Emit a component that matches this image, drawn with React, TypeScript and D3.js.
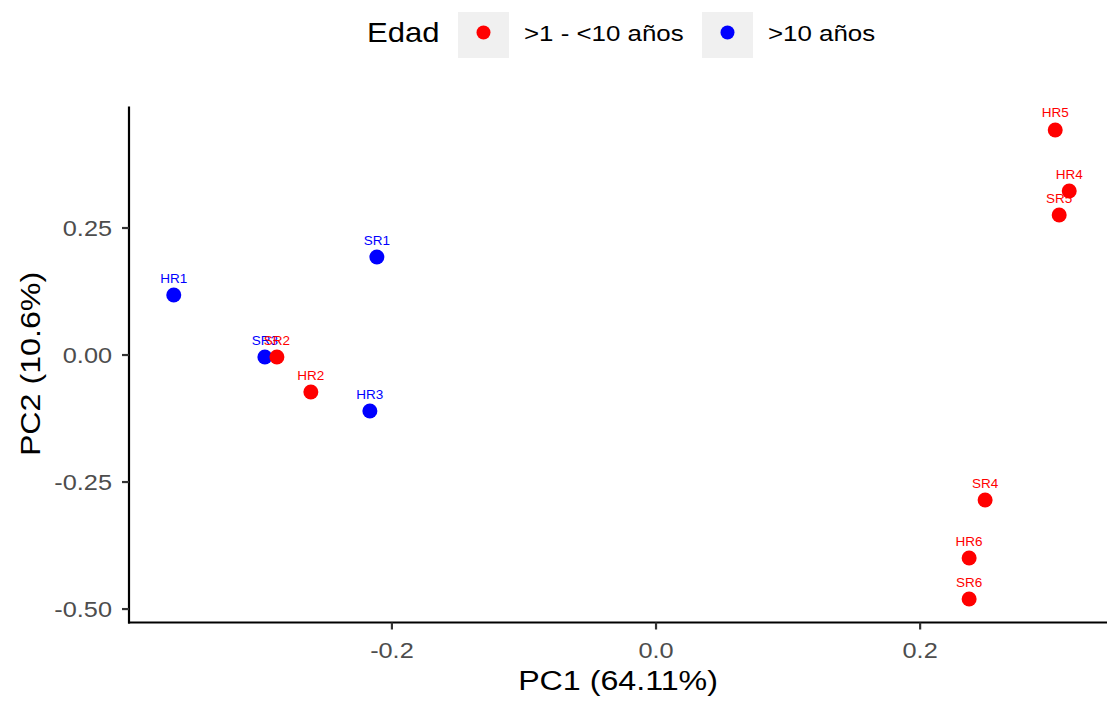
import React from "react";
import * as d3 from "d3";

const samples = ["HR5", "HR4", "SR5", "SR1", "HR1", "SR3", "SR2", "HR2", "HR3", "SR4", "HR6", "SR6"];
const pc1 = [0.3023, 0.3129, 0.3053, -0.2114, -0.3652, -0.2962, -0.2871, -0.2614, -0.2167, 0.2492, 0.2371, 0.2371];
const pc2 = [0.443, 0.3228, 0.2756, 0.1929, 0.1181, -0.0039, -0.0039, -0.0728, -0.1102, -0.2854, -0.3996, -0.4803];
const groups = [
  ">1 - <10 años", ">1 - <10 años", ">1 - <10 años", ">10 años", ">10 años", ">10 años",
  ">1 - <10 años", ">1 - <10 años", ">10 años", ">1 - <10 años", ">1 - <10 años", ">1 - <10 años",
];
const groupLevels = [">1 - <10 años", ">10 años"];
const groupColors = ["#FF0000", "#0000FF"];
const xTicks = [-0.2, 0.0, 0.2];
const yTicks = [0.25, 0.0, -0.25, -0.5];

const W = 1107;
const H = 707;
const left = 129;
const right = 1114;
const top = 106.5;
const bottom = 622.5;
const SX = 1.15;

function T(props: {
  x: number;
  y: number;
  size: number;
  anchor?: string;
  fill?: string;
  rotate?: boolean;
  children: React.ReactNode;
}) {
  const { x, y, size, anchor = "start", fill = "#000", rotate = false, children } = props;
  const tf = rotate
    ? `translate(${x},${y}) rotate(-90) scale(${SX},1)`
    : `translate(${x},${y}) scale(${SX},1)`;
  return (
    <text transform={tf} fontSize={size} textAnchor={anchor} fill={fill}>
      {children}
    </text>
  );
}

const fmt = (f: string) => (v: number) => d3.format(f)(v).replace("\u2212", "-");

export default function App() {
  const xmin = d3.min(pc1)!;
  const xmax = d3.max(pc1)!;
  const ymin = d3.min(pc2)!;
  const ymax = d3.max(pc2)!;
  const xp = (xmax - xmin) * 0.05;
  const yp = (ymax - ymin) * 0.05;
  const x = d3.scaleLinear().domain([xmin - xp, xmax + xp]).range([left, right]);
  const y = d3.scaleLinear().domain([ymin - yp, ymax + yp]).range([bottom, top]);
  const color = d3.scaleOrdinal<string, string>().domain(groupLevels).range(groupColors);
  const font = "Liberation Sans, Arial, Helvetica, sans-serif";
  const legendKeys = [458, 702];

  return (
    <svg width={W} height={H} style={{ position: "absolute", left: 0, top: 0 }} fontFamily={font}>
      <rect width={W} height={H} fill="#fff" />
      {/* legend */}
      <T x={367} y={42} size={27}>Edad</T>
      {groupLevels.map((g, i) => (
        <g key={g}>
          <rect x={legendKeys[i]} y={12} width={51} height={46} fill="#f0f0f0" />
          <circle cx={legendKeys[i] + 25.5} cy={32.5} r={7} fill={color(g)} />
          <T x={legendKeys[i] + 66} y={41} size={22.5}>{g}</T>
        </g>
      ))}
      {/* axes */}
      <line x1={left} x2={left} y1={top} y2={bottom + 1} stroke="#000" strokeWidth={2.2} />
      <line x1={left - 1} x2={right} y1={bottom} y2={bottom} stroke="#000" strokeWidth={2.2} />
      {yTicks.map((t) => (
        <g key={"y" + t}>
          <line x1={left - 7} x2={left} y1={y(t)} y2={y(t)} stroke="#333" strokeWidth={2.2} />
          <T x={left - 17} y={y(t) + 8} size={22} anchor="end" fill="#4d4d4d">
            {fmt(".2f")(t)}
          </T>
        </g>
      ))}
      {xTicks.map((t) => (
        <g key={"x" + t}>
          <line x1={x(t)} x2={x(t)} y1={bottom} y2={bottom + 7} stroke="#333" strokeWidth={2.2} />
          <T x={x(t)} y={658} size={22} anchor="middle" fill="#4d4d4d">
            {fmt(".1f")(t)}
          </T>
        </g>
      ))}
      <T x={(left + 1107) / 2} y={690} size={28} anchor="middle">PC1 (64.11%)</T>
      <T x={40} y={364} size={28} anchor="middle" rotate>
        PC2 (10.6%)
      </T>
      {/* points */}
      {samples.map((s, i) => (
        <circle key={"p" + s} cx={x(pc1[i])} cy={y(pc2[i])} r={7.5} fill={color(groups[i])} />
      ))}
      {samples.map((s, i) => (
        <text key={"l" + s} x={x(pc1[i])} y={y(pc2[i]) - 12.5} textAnchor="middle" fontSize={13.5} fill={color(groups[i])}>
          {s}
        </text>
      ))}
    </svg>
  );
}
